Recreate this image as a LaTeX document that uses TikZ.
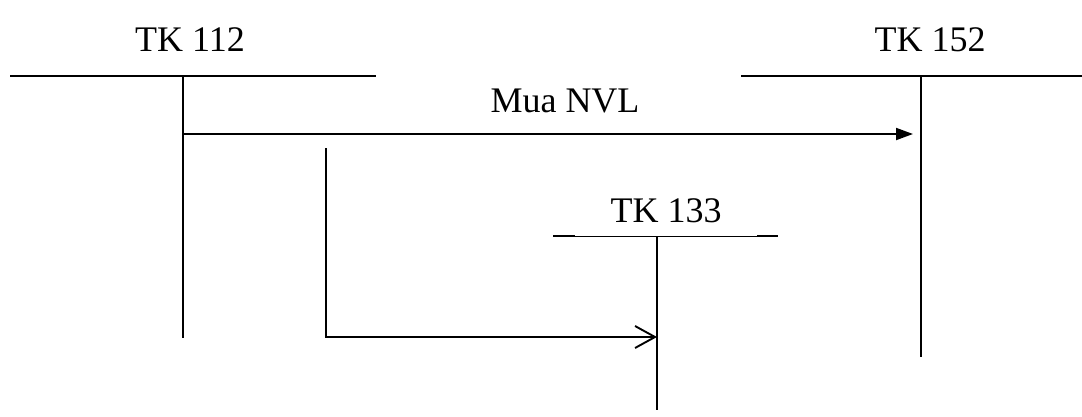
\documentclass[tikz,border=0pt]{standalone}
\usepackage{fontspec}
\setmainfont{Liberation Serif}
\usetikzlibrary{arrows.meta}
\tikzset{
  tacc/.style={line width=1.9pt},
  lbl/.style={font=\fontsize{36}{42}\selectfont, inner sep=0pt}
}
\begin{document}
\begin{tikzpicture}[x=1pt,y=-1pt]
\useasboundingbox (0,0) rectangle (1082,416);
% T-accounts
\draw[tacc] (10,76) -- (376,76);
\draw[tacc] (183,76) -- (183,338);
\draw[tacc] (741,76) -- (1082,76);
\draw[tacc] (921,76) -- (921,357);
\draw[tacc] (553,236) -- (575,236);
\draw[line width=1pt] (575,236) -- (757,236);
\draw[tacc] (757,236) -- (778,236);
\draw[tacc] (657,236) -- (657,410);
\node[lbl] (tk112) at (190,40) {TK 112};
\node[lbl] (tk152) at (930,40) {TK 152};
\node[lbl] (tk133) at (666,211) {TK 133};
\node[lbl] (mua) at (565,101) {Mua NVL};
% connectors
\coordinate (a1) at (183,134);
\coordinate (b1) at (921,134);
\coordinate (a2) at (326,148);
\coordinate (c2) at (326,337);
\coordinate (b2) at (657,337);
\draw[tacc,-{Triangle[length=17pt,width=12pt]},shorten >=8pt] (a1) -- (b1);
\draw[tacc,-{Straight Barb[length=20pt,width=22pt]}] (a2) -- (c2) -- (b2);
\end{tikzpicture}
\end{document}
